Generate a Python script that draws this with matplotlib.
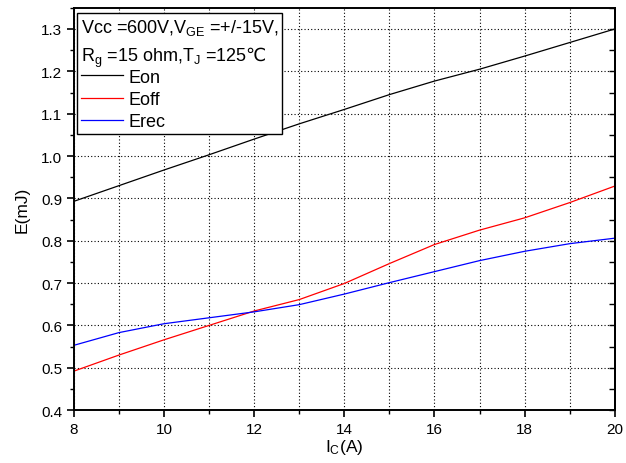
import numpy as np
import matplotlib.pyplot as plt
from matplotlib.ticker import MultipleLocator

plt.rcParams['font.family'] = ['Liberation Sans', 'DejaVu Sans']
plt.rcParams['mathtext.fontset'] = 'custom'
plt.rcParams['mathtext.rm'] = 'Liberation Sans'
plt.rcParams['mathtext.it'] = 'Liberation Sans'
plt.rcParams['mathtext.sf'] = 'DejaVu Sans'

# switching energy vs collector current
ic = [8, 9, 10, 11, 12, 13, 14, 15, 16, 17, 18, 19, 20]
eon = [0.893, 0.930, 0.967, 1.003, 1.040, 1.076, 1.110, 1.145, 1.177, 1.205, 1.236, 1.268, 1.300]
eoff = [0.492, 0.530, 0.566, 0.600, 0.634, 0.661, 0.699, 0.746, 0.791, 0.825, 0.854, 0.890, 0.929]
erec = [0.553, 0.583, 0.604, 0.618, 0.632, 0.649, 0.674, 0.701, 0.727, 0.753, 0.775, 0.793, 0.806]

fig = plt.figure(figsize=(6.26, 4.64), dpi=100)
ax = fig.add_axes([0.118, 0.114, 0.864, 0.867])

ax.plot(ic, eon, color='black', lw=0.9, label='Eon')
ax.plot(ic, eoff, color='red', lw=0.9, label='Eoff')
ax.plot(ic, erec, color='blue', lw=0.9, label='Erec')

ax.set_xlim(8, 20)
ax.set_ylim(0.4, 1.35)
ax.xaxis.set_major_locator(MultipleLocator(2))
ax.xaxis.set_minor_locator(MultipleLocator(1))
ax.yaxis.set_minor_locator(MultipleLocator(0.05))
ax.set_yticks(np.arange(0.4, 1.31, 0.1))
ax.set_yticklabels([f'{v:.1f}' for v in np.arange(0.4, 1.31, 0.1)])

ax.grid(True, which='major', axis='both', color='black', ls=(0, (1, 2)), lw=0.8)
ax.grid(True, which='minor', axis='x', color='black', ls=(0, (1, 2)), lw=0.8)

ax.tick_params(which='major', direction='out', length=5, width=1.2, labelsize=11)
ax.tick_params(which='minor', direction='out', length=3, width=1.0)
for s in ax.spines.values():
    s.set_linewidth(1.4)

# right side: inward ticks only
sec = ax.secondary_yaxis('right')
sec.yaxis.set_major_locator(MultipleLocator(0.05))
sec.tick_params(direction='in', length=4, width=1.0, labelright=False)
sec.spines['right'].set_linewidth(1.4)

ax.set_xlabel(r'I$\mathregular{_C}$(A)', fontsize=12.5, labelpad=1)
ax.set_ylabel('E(mJ)', fontsize=12.5, labelpad=8)

# ℃ is taken from DejaVu Sans through \mathsf
title = (r'Vcc =600V,V$\mathregular{_{GE}}$ =+/-15V,' + '\n'
         + r'R$\mathregular{_g}$ =15 ohm,T$\mathregular{_J}$ =125$\mathsf{℃}$')
leg = ax.legend(loc='upper left', bbox_to_anchor=(0.0, 0.995), title=title,
                alignment='left', fontsize=13, title_fontsize=13,
                frameon=True, fancybox=False, framealpha=1, edgecolor='black',
                handlelength=2.3, handletextpad=0.3, labelspacing=0.3,
                borderpad=0.2, borderaxespad=0.2)
leg.get_frame().set_linewidth(1.0)
leg.get_title().set_linespacing(1.45)
leg._legend_box.sep = 0

fig.savefig('out.png', dpi=100)
